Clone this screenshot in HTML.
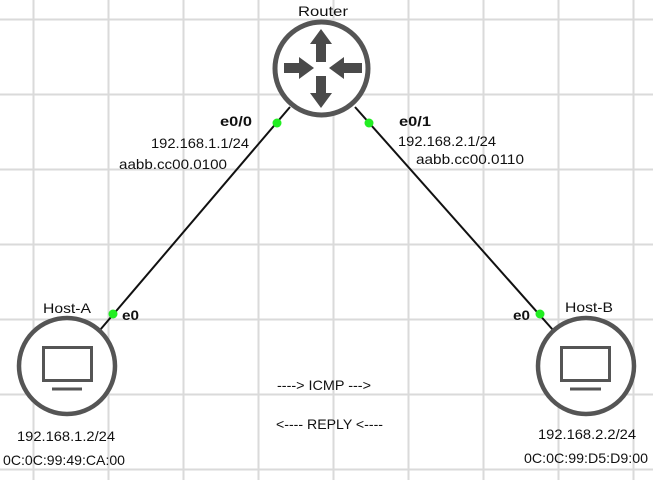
<!DOCTYPE html>
<html><head><meta charset="utf-8"><style>
html,body{margin:0;padding:0;background:#fff;width:653px;height:480px;overflow:hidden}
text{font-family:"Liberation Sans","DejaVu Sans",sans-serif;font-size:14px;fill:#111}
.b{font-weight:bold}
</style></head><body>
<svg width="653" height="480" viewBox="0 0 653 480" xmlns="http://www.w3.org/2000/svg">
<g stroke="#dadada" stroke-width="2">
<line x1="33.5" y1="0" x2="33.5" y2="480"/><line x1="108.5" y1="0" x2="108.5" y2="480"/>
<line x1="183.5" y1="0" x2="183.5" y2="480"/><line x1="258.5" y1="0" x2="258.5" y2="480"/>
<line x1="333.5" y1="0" x2="333.5" y2="480"/><line x1="408.5" y1="0" x2="408.5" y2="480"/>
<line x1="483.5" y1="0" x2="483.5" y2="480"/><line x1="558.5" y1="0" x2="558.5" y2="480"/>
<line x1="633.5" y1="0" x2="633.5" y2="480"/>
<line x1="0" y1="19.5" x2="653" y2="19.5"/><line x1="0" y1="94.5" x2="653" y2="94.5"/>
<line x1="0" y1="169.5" x2="653" y2="169.5"/><line x1="0" y1="244.5" x2="653" y2="244.5"/>
<line x1="0" y1="319.5" x2="653" y2="319.5"/><line x1="0" y1="394.5" x2="653" y2="394.5"/>
<line x1="0" y1="469.5" x2="653" y2="469.5"/>
</g>
<g stroke="#111" stroke-width="2">
<line x1="290" y1="107" x2="100" y2="330"/>
<line x1="355" y1="107" x2="553" y2="330"/>
</g>
<circle cx="321.5" cy="68.5" r="46.5" fill="#fff" stroke="#555" stroke-width="5"/>
<g fill="#4a4a4a">
<polygon points="321,29 332,44 326,44 326,62 316,62 316,44 310,44"/>
<polygon points="321,108 332,93 326,93 326,76 316,76 316,93 310,93"/>
<polygon points="314,68 299,57 299,63 284,63 284,73 299,73 299,79"/>
<polygon points="329,68 344,57 344,63 362,63 362,73 344,73 344,79"/>
</g>
<g fill="#fff" stroke="#555" stroke-width="4.5">
<circle cx="67" cy="366" r="48"/>
<circle cx="586" cy="366" r="48"/>
</g>
<g fill="none" stroke="#555" stroke-width="3">
<rect x="43.5" y="347.5" width="48" height="33"/>
<line x1="52" y1="389" x2="82" y2="389"/>
<rect x="561.5" y="347.5" width="48" height="33"/>
<line x1="570" y1="389" x2="601" y2="389"/>
</g>
<g fill="#22ee22">
<circle cx="277" cy="123" r="4.5"/><circle cx="369" cy="123" r="4.5"/>
<circle cx="113" cy="314" r="4.5"/><circle cx="540" cy="314" r="4.5"/>
</g>
<g>
<text x="298" y="16" textLength="50" lengthAdjust="spacingAndGlyphs">Router</text>
<text class="b" x="220" y="126" textLength="32" lengthAdjust="spacingAndGlyphs">e0/0</text>
<text x="151" y="148" textLength="98" lengthAdjust="spacingAndGlyphs">192.168.1.1/24</text>
<text x="119" y="169" textLength="108" lengthAdjust="spacingAndGlyphs">aabb.cc00.0100</text>
<text class="b" x="399" y="126" textLength="32" lengthAdjust="spacingAndGlyphs">e0/1</text>
<text x="398" y="146" textLength="98" lengthAdjust="spacingAndGlyphs">192.168.2.1/24</text>
<text x="416" y="164" textLength="108" lengthAdjust="spacingAndGlyphs">aabb.cc00.0110</text>
<text x="43" y="313" textLength="48" lengthAdjust="spacingAndGlyphs">Host-A</text>
<text class="b" x="122" y="320" textLength="17" lengthAdjust="spacingAndGlyphs">e0</text>
<text x="565" y="312" textLength="48" lengthAdjust="spacingAndGlyphs">Host-B</text>
<text class="b" x="513" y="320" textLength="17" lengthAdjust="spacingAndGlyphs">e0</text>
<text x="17" y="441" textLength="98" lengthAdjust="spacingAndGlyphs">192.168.1.2/24</text>
<text x="3" y="465" textLength="122" lengthAdjust="spacingAndGlyphs">0C:0C:99:49:CA:00</text>
<text x="538" y="439" textLength="98" lengthAdjust="spacingAndGlyphs">192.168.2.2/24</text>
<text x="524" y="463" textLength="124" lengthAdjust="spacingAndGlyphs">0C:0C:99:D5:D9:00</text>
<text x="277" y="390" textLength="94" lengthAdjust="spacingAndGlyphs">----&gt; ICMP ---&gt;</text>
<text x="276" y="429" textLength="107" lengthAdjust="spacingAndGlyphs">&lt;---- REPLY &lt;----</text>
</g>
</svg>
</body></html>
